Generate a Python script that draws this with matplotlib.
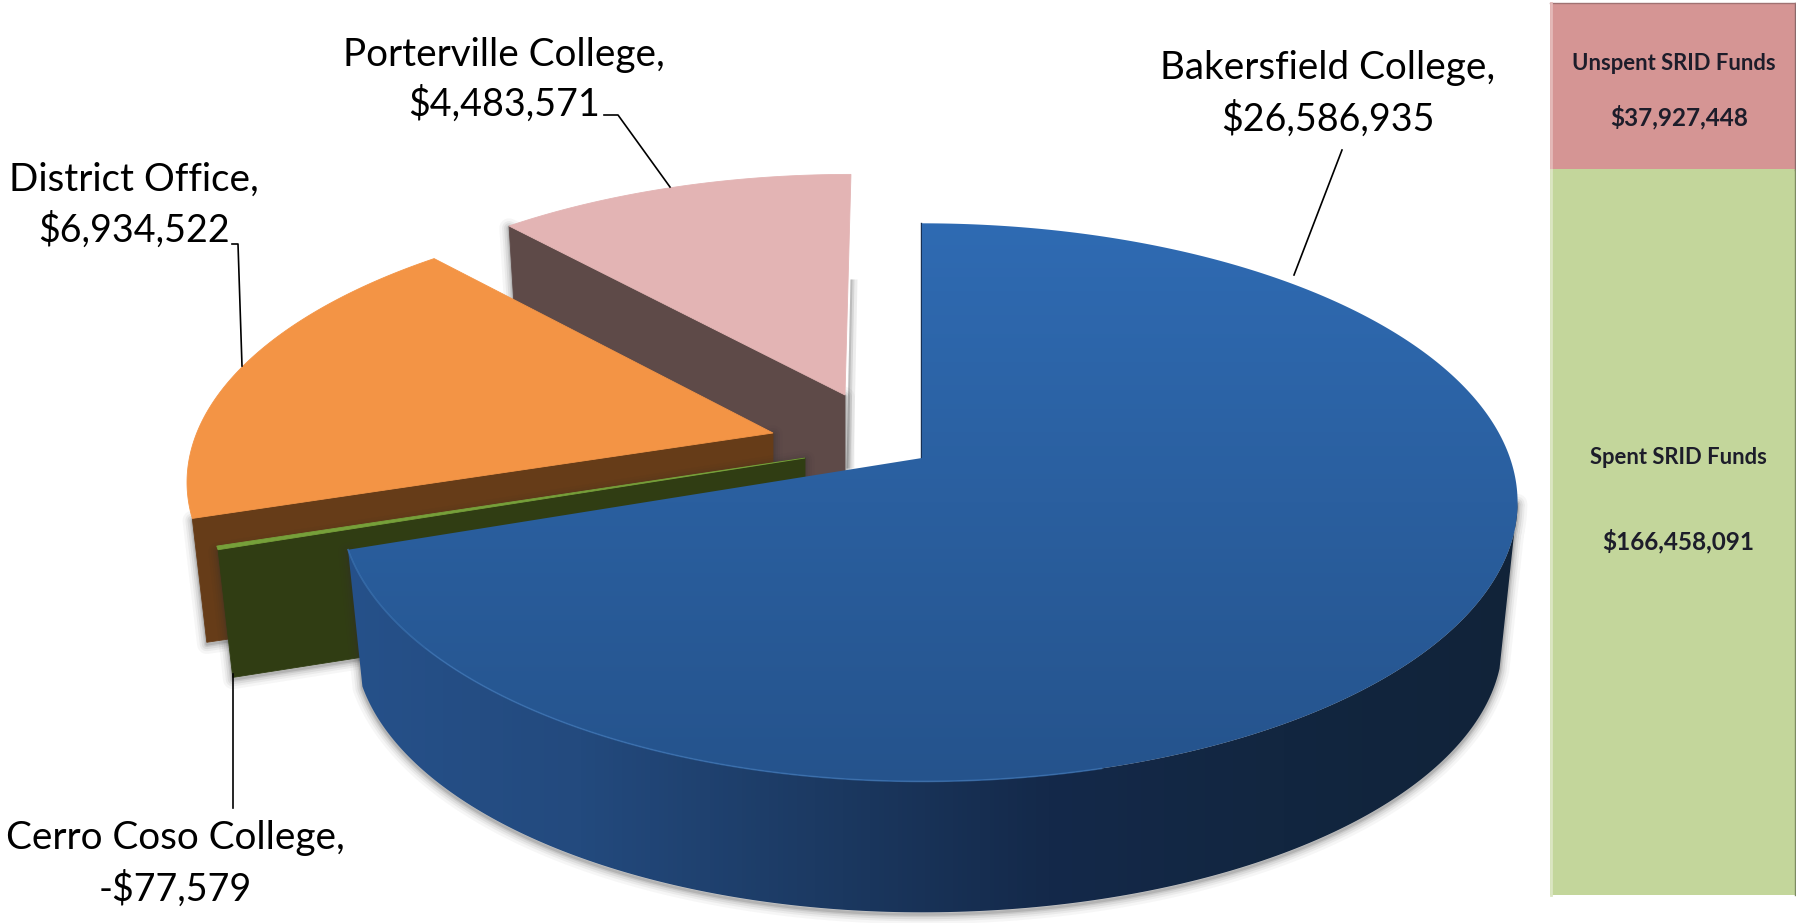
import numpy as np
import matplotlib
matplotlib.use('Agg')
import matplotlib.pyplot as plt
from matplotlib.colors import LinearSegmentedColormap
from matplotlib.patches import Polygon

# data
campuses = ['Bakersfield College', 'Cerro Coso College', 'District Office', 'Porterville College']
balances = [26586935, -77579, 6934522, 4483571]
fund_names = ['Spent SRID Funds', 'Unspent SRID Funds']
fund_values = [166458091, 37927448]

# styling of the fake 3D pie, all in reference pixels
apex = [(922, 458), (805, 458), (773, 433), (845, 395)]
depth = [139, 130, 126, 130]
scale_x = [1.0, 1.0, 0.98, 0.96]
scale_y = [1.0, 1.0, 0.97, 0.94]
shear = [0, 0, -0.05, -0.027]
left_r = [575, 588, 588, 588]
top_colors = ['#2b62a6', '#76a03a', '#f39445', '#e3b4b4']
side_colors = ['#1a3558', '#303d13', '#663c18', '#5e4a48']
label_pos = [(1328, 68, 119), (175, 838, 889), (134, 180, 230), (504, 55, 104)]
leaders = [[(1342, 150), (1294, 275)],
           [(233, 674), (233, 808)],
           [(232, 244), (238, 244), (242, 366)],
           [(604, 115), (618, 115), (670, 187)]]

R = 588
RY = 272
K = 0.159
BOTTOM = 0.975
W, H = 1796, 923

plt.rcParams['font.family'] = ['Lato', 'DejaVu Sans']
fig = plt.figure(figsize=(W / 100, H / 100), dpi=100)

# stacked bar on the right
ax_bar = fig.add_axes([1550 / W, (H - 895) / H, 245 / W, 892 / H])
ax_bar.bar(0, fund_values[0], width=1, color='#c3d69b')
ax_bar.bar(0, fund_values[1], width=1, bottom=fund_values[0], color='#d59594')
ax_bar.set_xlim(-0.5, 0.5)
ax_bar.set_ylim(0, sum(fund_values))
ax_bar.axis('off')

ax = fig.add_axes([0, 0, 1, 1])
ax.set_xlim(0, W)
ax.set_ylim(H, 0)
ax.axis('off')


def rim(i, theta, bottom=False):
    # point on the outer edge of slice i, perspective squeezes the back
    c = np.cos(theta)
    s = np.sin(theta)
    d = 1 + K * s
    rx = np.where(c < 0, left_r[i], R)
    y = -RY * scale_y[i] * s / d
    x = rx * scale_x[i] * c / d + shear[i] * y
    if bottom:
        return apex[i][0] + BOTTOM * x, apex[i][1] + depth[i] + BOTTOM * y
    return apex[i][0] + x, apex[i][1] + y


def poly(points, color, z, **kw):
    p = Polygon(points, closed=True, facecolor=color, edgecolor=color, lw=0.6, zorder=z, **kw)
    ax.add_patch(p)
    return p


def stack(*pairs):
    return np.column_stack([np.concatenate([p[0] for p in pairs]),
                            np.concatenate([p[1] for p in pairs])])


def gradient(clip, colors, extent, horizontal, z):
    cmap = LinearSegmentedColormap.from_list('g', colors)
    g = np.linspace(0, 1, 256)
    g = g[None, :] if horizontal else g[:, None]
    im = ax.imshow(g, cmap=cmap, extent=extent, aspect='auto', zorder=z, interpolation='bilinear')
    im.set_clip_path(clip)


def shadow(points, z):
    for lw, a in zip([14, 10, 7, 4, 2], [0.04, 0.06, 0.08, 0.1, 0.14]):
        ax.add_patch(Polygon(points + np.array([0, 2]), closed=True, facecolor='none', edgecolor='#303030',
                             lw=lw, alpha=a, zorder=z, joinstyle='round'))


# slices run clockwise from 12 o'clock, sized by the absolute balance
shares = np.abs(balances) / np.abs(balances).sum() * 2 * np.pi
ends = np.pi / 2 - np.cumsum(shares)
starts = ends + shares

# back to front, so the big slice covers the rest
for i in [3, 2, 1]:
    z = 10 + (3 - i) * 10
    ax0, ay0 = apex[i]
    ex, ey = rim(i, starts[i])
    bx, by = rim(i, starts[i], bottom=True)
    face = np.array([(ax0, ay0), (ex, ey), (bx, by), (ax0, ay0 + depth[i])])
    shadow(face, z - 1)
    poly(face, side_colors[i], z)
    t = np.linspace(ends[i], starts[i], 200)
    poly(stack(([ax0], [ay0]), rim(i, t)), top_colors[i], z + 2)

# big slice with its outer wall, only the part that faces the viewer
ax0, ay0 = apex[0]
wall_top = rim(0, np.linspace(ends[0], np.radians(-9), 200))
wall_bottom = rim(0, np.linspace(ends[0], np.radians(-15), 200), bottom=True)
wall = stack(wall_top, (wall_bottom[0][::-1], wall_bottom[1][::-1]))
shadow(wall, 39)
p = poly(wall, 'none', 41)
gradient(p, ['#26518a', '#234a7e', '#1c3a63', '#14294a', '#122640', '#112339'],
         (340, 1520, H, 0), True, 41)

t = np.linspace(ends[0], starts[0], 400)
p = poly(stack(([ax0], [ay0]), rim(0, t)), 'none', 42)
gradient(p, ['#2f6bb3', '#2a5f9f', '#25538c'], (340, 1520, 785, 220), False, 42)
front = t < np.radians(-75)
x, y = rim(0, t[front])
ax.plot(x, y, color='#3a73b5', lw=1.2, alpha=0.7, zorder=43)
ax.plot([ax0 - 1, ax0 - 1], [ay0, rim(0, starts[0])[1]], color='#173054', lw=1, zorder=39)

# soft shadow on the right of the pink wall
for w, a in zip([2, 4, 7], [0.25, 0.18, 0.12]):
    ax.fill_betweenx([279, 468], [850, 846], [850 + w, 846 + w], color='#707070', alpha=a, lw=0, zorder=5)

# labels and leader lines
for name, value, pos, line in zip(campuses, balances, label_pos, leaders):
    amount = f'-${-value:,}' if value < 0 else f'${value:,}'
    ax.text(pos[0], pos[1], name + ',', fontsize=27.8, ha='center', va='center', color='black', zorder=60)
    ax.text(pos[0], pos[2], amount, fontsize=27.1, ha='center', va='center', color='black', zorder=60)
    xs, ys = zip(*line)
    ax.plot(xs, ys, color='black', lw=1.2, zorder=60)

# text and edges of the bar
bar_text = [(fund_names[1], 1674, 63, fund_values[1], 1679, 117),
            (fund_names[0], 1678, 457, fund_values[0], 1678, 541)]
for name, x1, y1, value, x2, y2 in bar_text:
    ax.text(x1, y1, name, fontsize=15.8, fontweight='bold', ha='center', va='center', color='#1d1d2a')
    ax.text(x2, y2, f'${value:,}', fontsize=17.5, fontweight='bold', ha='center', va='center', color='#1d1d2a')
ax.plot([1795, 1795], [3, 170], color='#8a6a6a', lw=1)
ax.plot([1795, 1795], [170, 895], color='#7c8a62', lw=1)
ax.plot([1550, 1795], [3, 3], color='#a07272', lw=1)
ax.plot([1551, 1551], [3, 170], color='#e4b9b8', lw=2)
ax.plot([1551, 1551], [170, 895], color='#dbe6c2', lw=2)

fig.savefig('out.png', dpi=100)
